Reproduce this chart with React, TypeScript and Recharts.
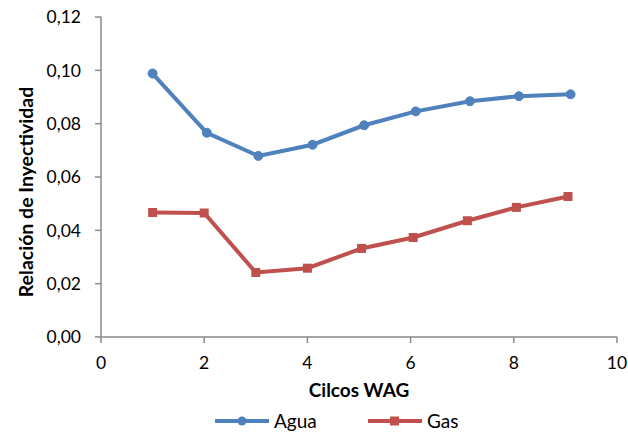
import { Legend, Line, LineChart, XAxis, YAxis } from "recharts";

const aguaCycles = [1, 2.05, 3.05, 4.1, 5.1, 6.1, 7.15, 8.1, 9.1];
const aguaValues = [0.0988, 0.0766, 0.0679, 0.0721, 0.0794, 0.0846, 0.0884, 0.0903, 0.091];
const gasCycles = [1, 2, 3, 4, 5.05, 6.05, 7.1, 8.05, 9.05];
const gasValues = [0.0467, 0.0465, 0.0242, 0.0258, 0.0332, 0.0373, 0.0436, 0.0486, 0.0527];
const xTicks = [0, 2, 4, 6, 8, 10];
const yTicks = [0, 0.02, 0.04, 0.06, 0.08, 0.1, 0.12];

const aguaData = aguaCycles.map((x, i) => ({ x, y: aguaValues[i] }));
const gasData = gasCycles.map((x, i) => ({ x, y: gasValues[i] }));

const BLUE = "#4F81BD";
const RED = "#C0504D";
const AXIS = "#898989";
const FONT = "Lato, 'Open Sans', sans-serif";

const fmt = (v: number) => v.toFixed(2).replace(".", ",");

function SquareDot(props: any) {
  const { cx, cy, index } = props;
  if (cx == null || cy == null) return null;
  return <rect key={index} x={cx - 4.5} y={cy - 4.5} width={9} height={9} fill={RED} />;
}

function YTitle(props: any) {
  const vb = props.viewBox || { x: 0, y: 17, width: 101, height: 320 };
  const x = vb.x + 25;
  const y = vb.y + vb.height / 2 + 15;
  return (
    <text
      x={x}
      y={y}
      transform={`rotate(-90 ${x} ${y})`}
      textAnchor="middle"
      dominantBaseline="central"
      fontFamily={FONT}
      fontSize={19.5}
      fontWeight="bold"
      fill="#000"
    >
      Relación de Inyectividad
    </text>
  );
}

function LegendBox() {
  const item = (left: number, color: string, label: string, square: boolean) => (
    <div style={{ position: "absolute", left, top: 12, display: "flex", alignItems: "center" }}>
      <svg width={54} height={14}>
        <line x1={0} y1={7} x2={54} y2={7} stroke={color} strokeWidth={4} />
        {square ? (
          <rect x={22} y={2.5} width={9} height={9} fill={color} />
        ) : (
          <circle cx={27} cy={7} r={4.5} fill={color} />
        )}
      </svg>
      <span style={{ marginLeft: 5, fontFamily: FONT, fontSize: 19, color: "#000" }}>{label}</span>
    </div>
  );
  return (
    <div style={{ position: "relative", height: 36, width: 628 }}>
      {item(215, BLUE, "Agua", false)}
      {item(368, RED, "Gas", true)}
    </div>
  );
}

export default function App() {
  return (
    <div style={{ position: "absolute", left: 0, top: 0, background: "#fff" }}>
      <LineChart width={628} height={433} margin={{ top: 17, right: 11, bottom: 0, left: 0 }}>
        <XAxis
          type="number"
          dataKey="x"
          domain={[0, 10]}
          ticks={xTicks}
          allowDuplicatedCategory={false}
          height={60}
          stroke={AXIS}
          strokeWidth={1.5}
          tickSize={6}
          tickMargin={14}
          tick={{ fill: "#000", fontFamily: FONT, fontSize: 17.5 }}
          label={{
            value: "Cilcos WAG",
            position: "insideBottom",
            offset: 0,
            fill: "#000",
            fontFamily: FONT,
            fontSize: 19,
            fontWeight: "bold",
          }}
        />
        <YAxis
          type="number"
          domain={[0, 0.12]}
          ticks={yTicks}
          width={101}
          stroke={AXIS}
          strokeWidth={1.5}
          tickSize={6}
          tickMargin={14}
          tickFormatter={fmt}
          tick={{ fill: "#000", fontFamily: FONT, fontSize: 17.5 }}
          label={(p: any) => <YTitle {...p} />}
        />
        <Legend verticalAlign="bottom" height={36} content={() => <LegendBox />} />
        <Line
          data={aguaData}
          dataKey="y"
          name="Agua"
          stroke={BLUE}
          strokeWidth={4}
          dot={{ r: 4.5, fill: BLUE, stroke: BLUE, strokeWidth: 1 }}
          isAnimationActive={false}
        />
        <Line
          data={gasData}
          dataKey="y"
          name="Gas"
          stroke={RED}
          strokeWidth={4}
          dot={(p: any) => <SquareDot {...p} />}
          isAnimationActive={false}
        />
      </LineChart>
    </div>
  );
}
